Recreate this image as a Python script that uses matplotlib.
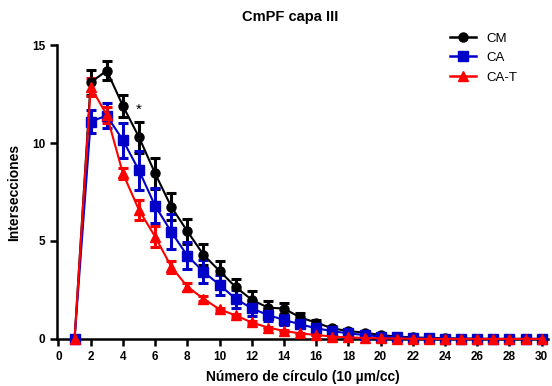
# CmPF capa III - Sholl analysis, intersections per circle number
import numpy as np
import matplotlib.pyplot as plt
from matplotlib.lines import Line2D

plt.rcParams['font.family'] = ['Liberation Sans', 'DejaVu Sans']

circles = np.arange(1, 31)

cm_mean = [0, 13.1, 13.7, 11.9, 10.3, 8.45, 6.75, 5.5, 4.3, 3.47, 2.65, 2.0, 1.6, 1.55,
           1.1, 0.83, 0.54, 0.4, 0.32, 0.2, 0.12, 0.08, 0.05, 0.03, 0.02, 0.01, 0, 0, 0, 0]
cm_sem = [0, 0.65, 0.5, 0.55, 0.8, 0.77, 0.68, 0.63, 0.55, 0.5, 0.42, 0.45, 0.35, 0.3,
          0.2, 0.15, 0.1, 0.06, 0.05, 0.04, 0.03, 0.02, 0.02, 0.01, 0, 0, 0, 0, 0, 0]

ca_mean = [0, 11.1, 11.4, 10.15, 8.6, 6.8, 5.47, 4.25, 3.43, 2.76, 2.05, 1.56, 1.22, 0.97,
           0.75, 0.54, 0.4, 0.28, 0.2, 0.12, 0.08, 0.05, 0.03, 0.02, 0.01, 0, 0, 0, 0, 0]
ca_sem = [0, 0.6, 0.65, 0.9, 1.0, 0.9, 0.9, 0.68, 0.6, 0.5, 0.45, 0.4, 0.3, 0.25,
          0.2, 0.15, 0.1, 0.06, 0.05, 0.04, 0.03, 0.02, 0.01, 0, 0, 0, 0, 0, 0, 0]

cat_mean = [0, 12.87, 11.43, 8.45, 6.58, 5.22, 3.69, 2.67, 2.05, 1.51, 1.2, 0.84, 0.58, 0.41,
            0.28, 0.2, 0.12, 0.08, 0.05, 0.03, 0.02, 0.01, 0, 0, 0, 0, 0, 0, 0, 0]
cat_sem = [0, 0.45, 0.4, 0.3, 0.5, 0.55, 0.3, 0.2, 0.12, 0.08, 0.08, 0.06, 0.05, 0.04,
           0.03, 0.02, 0.02, 0.01, 0, 0, 0, 0, 0, 0, 0, 0, 0, 0, 0, 0]

series = [("CM", cm_mean, cm_sem, "black", "o"),
          ("CA", ca_mean, ca_sem, "#0000c8", "s"),
          ("CA-T", cat_mean, cat_sem, "#ff0000", "^")]

fig = plt.figure(figsize=(5.52, 3.86), dpi=100)
ax = fig.add_axes([0.103, 0.122, 0.89, 0.761])

handles = []
for name, m, s, col, mk in series:
    ax.errorbar(circles, m, yerr=s, color=col, marker=mk, markersize=6.5,
                linewidth=1.5, elinewidth=2.2, capsize=3.5, capthick=2.2,
                clip_on=False, zorder=3)
    handles.append(Line2D([], [], color=col, marker=mk, markersize=6.5,
                          linewidth=1.8, label=name))

# significance mark
ax.text(5, cm_mean[4] + cm_sem[4] + 0.6, "*", ha="center", va="center", fontsize=11)

ax.set_xlim(-0.1, 30.4)
ax.set_ylim(0, 15)
ax.set_xticks(np.arange(0, 31, 2))
ax.set_yticks([0, 5, 10, 15])
ax.spines['top'].set_visible(False)
ax.spines['right'].set_visible(False)
ax.spines['left'].set_linewidth(1.8)
ax.spines['bottom'].set_linewidth(1.8)
ax.tick_params(width=1.8, length=5, labelsize=8.5)
for lab in ax.get_xticklabels() + ax.get_yticklabels():
    lab.set_fontweight("bold")

ax.set_xlabel("Número de círculo (10 µm/cc)", fontsize=10, fontweight="bold", labelpad=5)
ax.set_ylabel("Intersecciones", fontsize=10, fontweight="bold", labelpad=8)
fig.text(0.525, 0.955, "CmPF capa III", ha="center", va="center",
         fontsize=10.5, fontweight="bold")

fig.legend(handles=handles, loc="upper left", bbox_to_anchor=(0.805, 0.93),
           frameon=False, fontsize=9.5, handlelength=2.0, labelspacing=0.55,
           borderaxespad=0)

fig.savefig("out.png", dpi=100)
